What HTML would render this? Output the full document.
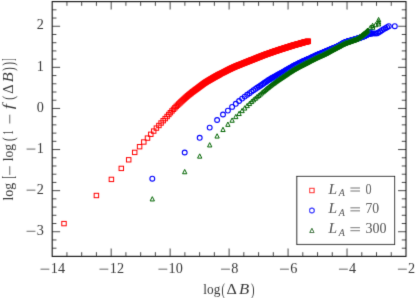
<!DOCTYPE html>
<html><head><meta charset="utf-8"><title>plot</title>
<style>
html,body{margin:0;padding:0;background:#fff;}
body{width:416px;height:298px;overflow:hidden;}
svg{display:block;}
text{font-family:"Liberation Serif",serif;fill:#383838;}
.i{font-style:italic;}
</style></head><body>
<svg width="416" height="298" viewBox="0 0 416 298">
<rect width="416" height="298" fill="#fff"/>
<defs>
<filter id="bl" x="-2%" y="-2%" width="104%" height="104%"><feConvolveMatrix order="3" kernelMatrix="0.0113 0.0838 0.0113 0.0838 0.6193 0.0838 0.0113 0.0838 0.0113" divisor="1" edgeMode="none" preserveAlpha="false"/></filter>
<marker id="ms" markerUnits="userSpaceOnUse" markerWidth="8" markerHeight="8" refX="4" refY="4" orient="0"><rect x="1.77" y="1.82" width="4.46" height="4.36" fill="none" stroke="#f00" stroke-width="1.0"/></marker>
<marker id="mc" markerUnits="userSpaceOnUse" markerWidth="8" markerHeight="8" refX="4" refY="4" orient="0"><circle cx="4" cy="4" r="2.42" fill="none" stroke="#00f" stroke-width="1.1"/></marker>
<marker id="mt" markerUnits="userSpaceOnUse" markerWidth="10" markerHeight="10" refX="5" refY="5" orient="0"><path d="M5 2.85 L7.15 7.15 L2.85 7.15 Z" fill="none" stroke="#006400" stroke-width="1.0" stroke-linejoin="miter"/></marker>
</defs>
<g filter="url(#bl)">

<polyline points="64.0,223.6 96.4,195.5 111.4,179.4 121.3,168.4 128.7,159.8 134.7,152.4 139.6,146.7 143.8,142.0 147.5,138.1 150.8,134.3 153.7,131.1 156.4,128.1 158.9,125.5 161.1,123.0 163.2,120.7 165.2,118.6 167.1,116.5 168.8,114.5 170.4,112.7 172.0,110.9 173.5,109.3 174.9,107.8 176.2,106.4 177.5,105.2 178.7,104.0 179.9,102.9 181.0,101.8 182.1,100.8 183.2,99.8 184.2,98.9 185.2,98.0 186.1,97.2 187.0,96.4 187.9,95.6 188.8,94.9 189.6,94.2 190.5,93.6 191.3,92.9 192.0,92.3 192.8,91.7 193.5,91.2 194.3,90.6 195.0,90.1 195.6,89.6 196.3,89.1 197.0,88.7 197.6,88.2 198.2,87.7 198.8,87.3 199.4,86.8 200.0,86.4 200.6,85.9 201.2,85.5 201.7,85.1 202.3,84.7 202.8,84.3 203.3,83.9 203.9,83.5 204.4,83.2 204.9,82.8 205.4,82.5 205.8,82.2 206.3,81.9 206.8,81.6 207.3,81.3 207.7,81.1 208.2,80.8 208.6,80.5 209.0,80.3 209.5,80.0 209.9,79.8 210.3,79.5 210.7,79.3 211.1,79.1 211.5,78.8 211.9,78.6 212.3,78.4 212.7,78.2 213.0,77.9 213.4,77.7 213.8,77.5 214.1,77.3 214.5,77.1 214.9,76.9 215.2,76.7 215.6,76.5 215.9,76.3 216.2,76.1 216.6,75.9 216.9,75.8 217.2,75.6 217.6,75.4 217.9,75.2 218.2,75.0 218.5,74.9 218.8,74.7 219.1,74.5 219.4,74.4 219.7,74.2 220.3,73.9 220.9,73.6 221.5,73.3 222.0,73.0 222.6,72.7 223.1,72.5 223.7,72.2 224.2,71.9 224.7,71.7 225.2,71.4 225.7,71.2 226.2,70.9 226.6,70.7 227.1,70.4 227.6,70.2 228.0,70.0 228.5,69.7 228.9,69.5 229.4,69.3 229.8,69.1 230.2,68.9 230.6,68.7 231.0,68.5 231.4,68.3 231.8,68.1 232.2,67.9 232.6,67.7 233.0,67.6 233.4,67.4 233.8,67.2 234.1,67.1 234.5,66.9 234.9,66.7 235.2,66.6 235.6,66.4 235.9,66.3 236.3,66.2 236.6,66.0 236.9,65.9 237.3,65.7 237.6,65.6 237.9,65.5 238.2,65.3 238.6,65.2 238.9,65.1 239.2,64.9 239.5,64.8 239.8,64.7 240.1,64.6 240.5,64.4 241.0,64.2 241.4,64.1 241.8,63.9 242.3,63.7 242.7,63.6 243.1,63.4 243.5,63.2 243.9,63.1 244.3,62.9 244.7,62.8 245.1,62.6 245.4,62.5 245.8,62.3 246.2,62.2 246.5,62.0 246.9,61.9 247.3,61.7 247.6,61.6 248.0,61.5 248.3,61.3 248.6,61.2 249.0,61.1 249.3,60.9 249.6,60.8 250.0,60.7 250.3,60.5 250.6,60.4 250.9,60.3 251.2,60.2 251.5,60.1 251.8,59.9 252.1,59.8 252.5,59.7 252.9,59.5 253.3,59.4 253.7,59.2 254.1,59.1 254.4,58.9 254.8,58.8 255.2,58.6 255.5,58.5 255.9,58.3 256.2,58.2 256.6,58.0 256.9,57.9 257.2,57.8 257.6,57.6 257.9,57.5 258.2,57.4 258.6,57.3 258.9,57.1 259.2,57.0 259.5,56.9 259.8,56.8 260.1,56.6 260.4,56.5 260.8,56.4 261.2,56.2 261.5,56.1 261.9,55.9 262.2,55.8 262.6,55.7 262.9,55.5 263.3,55.4 263.6,55.3 264.0,55.1 264.3,55.0 264.6,54.9 264.9,54.8 265.3,54.7 265.6,54.5 265.9,54.4 266.2,54.3 266.5,54.2 266.8,54.1 267.1,54.0 267.5,53.9 267.8,53.7 268.2,53.6 268.5,53.5 268.9,53.4 269.2,53.2 269.5,53.1 269.9,53.0 270.2,52.9 270.5,52.8 270.8,52.7 271.2,52.6 271.5,52.5 271.8,52.3 272.1,52.2 272.4,52.1 272.7,52.0 273.1,51.9 273.4,51.8 273.8,51.7 274.1,51.5 274.4,51.4 274.7,51.3 275.1,51.2 275.4,51.1 275.7,51.0 276.0,50.9 276.3,50.8 276.6,50.7 276.9,50.6 277.3,50.5 277.6,50.4 277.9,50.2 278.3,50.1 278.6,50.0 278.9,49.9 279.3,49.8 279.6,49.7 279.9,49.6 280.2,49.5 280.5,49.4 280.8,49.3 281.1,49.2 281.4,49.1 281.8,49.0 282.1,48.9 282.4,48.8 282.7,48.7 283.1,48.6 283.4,48.5 283.7,48.4 284.0,48.3 284.3,48.2 284.6,48.1 284.9,48.0 285.2,47.9 285.6,47.8 285.9,47.7 286.2,47.6 286.5,47.5 286.8,47.4 287.1,47.3 287.4,47.2 287.8,47.1 288.1,47.0 288.4,46.9 288.7,46.8 289.0,46.7 289.4,46.6 289.7,46.5 290.0,46.4 290.3,46.3 290.6,46.2 290.9,46.1 291.2,46.0 291.6,45.9 291.9,45.8 292.2,45.7 292.5,45.6 292.8,45.5 293.1,45.4 293.4,45.3 293.7,45.2 294.1,45.2 294.4,45.1 294.7,45.0 295.0,44.9 295.3,44.8 295.6,44.7 295.9,44.6 296.2,44.5 296.6,44.4 296.9,44.4 297.2,44.3 297.5,44.2 297.8,44.1 298.1,44.0 298.4,43.9 298.7,43.8 299.0,43.7 299.3,43.7 299.6,43.6 300.0,43.5 300.3,43.4 300.6,43.3 300.9,43.2 301.2,43.1 301.5,43.0 301.8,42.9 302.1,42.8 302.4,42.7 302.7,42.7 303.0,42.6 303.3,42.5 303.7,42.4 304.0,42.3 304.3,42.2 304.6,42.1 304.9,42.1 305.2,42.0 305.5,41.9 305.8,41.8 306.1,41.8 306.4,41.7 306.7,41.6 307.0,41.5 307.4,41.5 307.7,41.4 308.0,41.4 308.3,41.3" fill="none" stroke="none" marker-start="url(#ms)" marker-mid="url(#ms)" marker-end="url(#ms)"/>
<polyline points="152.3,178.7 184.7,152.5 199.7,137.8 209.7,127.6 217.1,120.0 223.0,114.5 227.9,110.6 232.1,106.9 235.8,103.8 239.1,101.0 242.1,98.6 244.7,96.6 247.2,94.8 249.5,93.2 251.6,91.6 253.5,90.2 255.4,88.9 257.1,87.8 258.8,86.7 260.3,85.7 261.8,84.7 263.2,83.7 264.5,82.8 265.8,81.9 267.0,81.1 268.2,80.3 269.3,79.6 270.4,79.0 271.5,78.3 272.5,77.7 273.5,77.2 274.4,76.6 275.4,76.1 276.3,75.7 277.1,75.2 278.0,74.8 278.8,74.3 279.6,73.9 280.4,73.5 281.1,73.0 281.9,72.6 282.6,72.2 283.3,71.9 284.0,71.5 284.6,71.1 285.3,70.7 285.9,70.3 286.6,70.0 287.2,69.6 287.8,69.3 288.4,68.9 288.9,68.6 289.5,68.3 290.1,67.9 290.6,67.6 291.1,67.4 291.7,67.1 292.2,66.8 292.7,66.5 293.2,66.3 293.7,66.0 294.2,65.7 294.6,65.5 295.1,65.3 295.6,65.0 296.0,64.8 296.5,64.6 296.9,64.4 297.3,64.1 297.8,63.9 298.2,63.7 298.6,63.5 299.0,63.3 299.4,63.1 299.8,62.9 300.2,62.7 300.6,62.6 301.0,62.4 301.4,62.2 301.7,62.0 302.1,61.9 302.5,61.7 302.8,61.5 303.2,61.3 303.5,61.2 303.9,61.0 304.2,60.9 304.6,60.7 304.9,60.6 305.2,60.4 305.6,60.3 305.9,60.1 306.2,60.0 306.5,59.8 306.8,59.7 307.1,59.6 307.5,59.4 307.8,59.3 308.1,59.1 308.7,58.9 309.2,58.6 309.8,58.4 310.4,58.1 310.9,57.8 311.4,57.6 312.0,57.3 312.5,57.1 313.0,56.8 313.5,56.6 314.0,56.4 314.5,56.1 315.0,55.9 315.4,55.7 315.9,55.5 316.4,55.3 316.8,55.1 317.2,54.9 317.7,54.7 318.1,54.5 318.5,54.4 318.9,54.2 319.4,54.0 319.8,53.9 320.2,53.7 320.6,53.6 320.9,53.4 321.3,53.3 321.7,53.1 322.1,53.0 322.5,52.8 322.8,52.7 323.2,52.5 323.5,52.4 323.9,52.2 324.2,52.1 324.6,52.0 324.9,51.8 325.3,51.7 325.6,51.5 325.9,51.4 326.2,51.3 326.6,51.1 326.9,51.0 327.2,50.8 327.5,50.7 327.8,50.6 328.1,50.4 328.4,50.3 328.9,50.1 329.3,49.9 329.7,49.7 330.2,49.5 330.6,49.4 331.0,49.2 331.4,49.0 331.8,48.8 332.2,48.7 332.6,48.5 333.0,48.4 333.4,48.2 333.8,48.1 334.1,47.9 334.5,47.8 334.9,47.7 335.2,47.5 335.6,47.4 335.9,47.2 336.3,47.1 336.6,46.9 337.0,46.8 337.3,46.6 337.6,46.5 338.0,46.3 338.3,46.2 338.6,46.0 338.9,45.8 339.2,45.7 339.5,45.5 339.8,45.3 340.1,45.1 340.4,44.9 340.8,44.7 341.2,44.4 341.6,44.2 342.0,43.9 342.4,43.7 342.8,43.5 343.1,43.3 343.5,43.1 343.8,42.9 344.2,42.7 344.5,42.6 344.9,42.4 345.2,42.3 345.6,42.1 345.9,42.0 346.2,41.9 346.6,41.8 346.9,41.7 347.2,41.6 347.5,41.5 347.8,41.4 348.1,41.3 348.4,41.2 348.7,41.1 349.1,41.0 349.5,40.9 349.9,40.8 350.2,40.7 350.6,40.6 350.9,40.5 351.3,40.4 351.6,40.3 352.0,40.2 352.3,40.1 352.6,40.0 352.9,39.9 353.3,39.8 353.6,39.7 353.9,39.6 354.2,39.6 354.5,39.5 354.8,39.4 355.1,39.3 355.5,39.2 355.8,39.1 356.2,39.0 356.5,38.9 356.9,38.8 357.2,38.7 357.5,38.5 357.9,38.4 358.2,38.3 358.5,38.2 358.8,38.1 359.2,38.0 359.5,37.9 359.8,37.8 360.1,37.7 360.4,37.6 360.7,37.4 361.1,37.3 361.4,37.2 361.7,37.1 362.1,36.9 362.4,36.8 362.7,36.7 363.1,36.6 363.4,36.5 363.7,36.3 364.0,36.2 364.3,36.1 364.7,35.9 365.0,35.8 365.3,35.6 365.6,35.4 365.9,35.3 366.3,35.1 366.6,34.9 366.9,34.7 367.3,34.5 367.6,34.3 367.9,34.2 368.2,34.0 368.5,33.9 368.8,33.8 369.1,33.7 369.4,33.6 369.8,33.5 370.1,33.4 370.4,33.4 370.7,33.4 371.1,33.4 371.4,33.4 371.7,33.4 373.4,33.4 375.1,33.4 376.8,33.4 378.5,32.5 380.2,31.4 382.0,30.2 383.7,29.1 385.4,28.2 387.1,27.2 388.8,26.2 394.8,26.2" fill="none" stroke="none" marker-start="url(#mc)" marker-mid="url(#mc)" marker-end="url(#mc)"/>
<polyline points="152.3,198.8 184.7,171.6 199.7,156.0 209.7,144.8 217.1,135.9 223.0,129.4 227.9,124.2 232.1,120.1 235.8,116.5 239.1,113.4 242.1,110.5 244.7,107.9 247.2,105.5 249.5,103.4 251.6,101.4 253.5,99.7 255.4,98.1 257.1,96.6 258.8,95.3 260.3,94.0 261.8,92.7 263.2,91.5 264.5,90.4 265.8,89.3 267.0,88.2 268.2,87.3 269.3,86.3 270.4,85.5 271.5,84.7 272.5,83.9 273.5,83.2 274.4,82.5 275.4,81.8 276.3,81.1 277.1,80.5 278.0,79.9 278.8,79.4 279.6,78.8 280.4,78.3 281.1,77.8 281.9,77.3 282.6,76.8 283.3,76.3 284.0,75.9 284.6,75.4 285.3,75.0 285.9,74.5 286.6,74.1 287.2,73.7 287.8,73.2 288.4,72.8 288.9,72.4 289.5,72.1 290.1,71.7 290.6,71.3 291.1,71.0 291.7,70.7 292.2,70.4 292.7,70.0 293.2,69.7 293.7,69.4 294.2,69.1 294.6,68.9 295.1,68.6 295.6,68.3 296.0,68.1 296.5,67.8 296.9,67.6 297.3,67.3 297.8,67.1 298.2,66.9 298.6,66.6 299.0,66.4 299.4,66.2 299.8,66.0 300.2,65.8 300.6,65.6 301.0,65.4 301.4,65.2 301.7,65.0 302.1,64.8 302.5,64.6 302.8,64.5 303.2,64.3 303.5,64.1 303.9,63.9 304.2,63.7 304.6,63.6 304.9,63.4 305.2,63.2 305.6,63.0 305.9,62.9 306.2,62.7 306.5,62.6 306.8,62.4 307.1,62.2 307.5,62.1 307.8,61.9 308.1,61.8 308.7,61.5 309.2,61.2 309.8,60.9 310.4,60.6 310.9,60.3 311.4,60.1 312.0,59.8 312.5,59.5 313.0,59.3 313.5,59.0 314.0,58.8 314.5,58.5 315.0,58.3 315.4,58.0 315.9,57.8 316.4,57.6 316.8,57.4 317.2,57.2 317.7,57.0 318.1,56.8 318.5,56.6 318.9,56.4 319.4,56.2 319.8,56.0 320.2,55.8 320.6,55.7 320.9,55.5 321.3,55.3 321.7,55.2 322.1,55.0 322.5,54.8 322.8,54.6 323.2,54.5 323.5,54.3 323.9,54.1 324.2,54.0 324.6,53.8 324.9,53.6 325.3,53.5 325.6,53.3 325.9,53.1 326.2,53.0 326.6,52.8 326.9,52.6 327.2,52.5 327.5,52.3 327.8,52.1 328.1,52.0 328.4,51.8 328.9,51.5 329.3,51.3 329.7,51.1 330.2,50.8 330.6,50.6 331.0,50.4 331.4,50.2 331.8,49.9 332.2,49.7 332.6,49.5 333.0,49.3 333.4,49.1 333.8,48.9 334.1,48.7 334.5,48.5 334.9,48.3 335.2,48.1 335.6,47.9 335.9,47.7 336.3,47.5 336.6,47.4 337.0,47.2 337.3,47.0 337.6,46.8 338.0,46.7 338.3,46.5 338.6,46.3 338.9,46.2 339.2,46.0 339.5,45.8 339.8,45.7 340.1,45.5 340.4,45.3 340.8,45.1 341.2,44.9 341.6,44.7 342.0,44.5 342.4,44.3 342.8,44.1 343.1,44.0 343.5,43.8 343.8,43.6 344.2,43.5 344.5,43.3 344.9,43.2 345.2,43.0 345.6,42.9 345.9,42.8 346.2,42.6 346.6,42.5 346.9,42.4 347.2,42.3 347.5,42.2 347.8,42.1 348.1,42.0 348.4,41.9 348.7,41.7 349.1,41.6 349.5,41.5 349.9,41.4 350.2,41.2 350.6,41.1 350.9,41.0 351.3,40.8 351.6,40.7 352.0,40.6 352.3,40.5 352.6,40.4 352.9,40.3 353.3,40.1 353.6,40.0 353.9,39.9 354.2,39.8 354.5,39.7 354.8,39.6 355.1,39.5 355.5,39.4 355.8,39.2 356.2,39.1 356.5,38.9 356.9,38.7 357.2,38.6 357.5,38.4 357.9,38.2 358.2,38.0 358.5,37.8 358.8,37.6 359.2,37.4 359.5,37.2 359.8,37.0 360.1,36.8 360.4,36.6 360.7,36.4 361.1,36.1 361.4,35.8 361.7,35.6 362.1,35.3 362.4,35.0 362.7,34.8 363.1,34.5 363.4,34.2 363.7,34.0 364.0,33.7 364.3,33.5 364.7,33.2 365.0,33.0 365.3,32.7 365.6,32.4 365.9,32.1 366.3,31.8 366.6,31.5 366.9,31.1 367.3,30.8 367.6,30.5 367.9,30.3 370.4,27.4 372.6,25.4 372.8,27.2 375.6,24.6 378.6,23.8 378.6,21.8 378.6,19.6" fill="none" stroke="none" marker-start="url(#mt)" marker-mid="url(#mt)" marker-end="url(#mt)"/>
<rect x="52.2" y="1.6" width="353.8" height="254.8" fill="none" stroke="#1c1c1c" stroke-width="1.15"/>
<path d="M66.94 256.40v-4.2M66.94 1.60v4.2M81.68 256.40v-4.2M81.68 1.60v4.2M96.43 256.40v-4.2M96.43 1.60v4.2M111.17 256.40v-7.9M111.17 1.60v7.9M125.91 256.40v-4.2M125.91 1.60v4.2M140.65 256.40v-4.2M140.65 1.60v4.2M155.39 256.40v-4.2M155.39 1.60v4.2M170.13 256.40v-7.9M170.13 1.60v7.9M184.88 256.40v-4.2M184.88 1.60v4.2M199.62 256.40v-4.2M199.62 1.60v4.2M214.36 256.40v-4.2M214.36 1.60v4.2M229.10 256.40v-7.9M229.10 1.60v7.9M243.84 256.40v-4.2M243.84 1.60v4.2M258.58 256.40v-4.2M258.58 1.60v4.2M273.32 256.40v-4.2M273.32 1.60v4.2M288.07 256.40v-7.9M288.07 1.60v7.9M302.81 256.40v-4.2M302.81 1.60v4.2M317.55 256.40v-4.2M317.55 1.60v4.2M332.29 256.40v-4.2M332.29 1.60v4.2M347.03 256.40v-7.9M347.03 1.60v7.9M361.77 256.40v-4.2M361.77 1.60v4.2M376.52 256.40v-4.2M376.52 1.60v4.2M391.26 256.40v-4.2M391.26 1.60v4.2M52.20 248.18h4.2M406.00 248.18h-4.2M52.20 239.96h4.2M406.00 239.96h-4.2M52.20 231.74h7.9M406.00 231.74h-7.9M52.20 223.52h4.2M406.00 223.52h-4.2M52.20 215.30h4.2M406.00 215.30h-4.2M52.20 207.08h4.2M406.00 207.08h-4.2M52.20 198.86h4.2M406.00 198.86h-4.2M52.20 190.65h7.9M406.00 190.65h-7.9M52.20 182.43h4.2M406.00 182.43h-4.2M52.20 174.21h4.2M406.00 174.21h-4.2M52.20 165.99h4.2M406.00 165.99h-4.2M52.20 157.77h4.2M406.00 157.77h-4.2M52.20 149.55h7.9M406.00 149.55h-7.9M52.20 141.33h4.2M406.00 141.33h-4.2M52.20 133.11h4.2M406.00 133.11h-4.2M52.20 124.89h4.2M406.00 124.89h-4.2M52.20 116.67h4.2M406.00 116.67h-4.2M52.20 108.45h7.9M406.00 108.45h-7.9M52.20 100.23h4.2M406.00 100.23h-4.2M52.20 92.01h4.2M406.00 92.01h-4.2M52.20 83.79h4.2M406.00 83.79h-4.2M52.20 75.57h4.2M406.00 75.57h-4.2M52.20 67.35h7.9M406.00 67.35h-7.9M52.20 59.14h4.2M406.00 59.14h-4.2M52.20 50.92h4.2M406.00 50.92h-4.2M52.20 42.70h4.2M406.00 42.70h-4.2M52.20 34.48h4.2M406.00 34.48h-4.2M52.20 26.26h7.9M406.00 26.26h-7.9M52.20 18.04h4.2M406.00 18.04h-4.2M52.20 9.82h4.2M406.00 9.82h-4.2" fill="none" stroke="#1c1c1c" stroke-width="0.8"/>
<path d="M40.51 269.18H49.37" stroke="#383838" stroke-width="0.75" fill="none"/><text transform="translate(50.66 272.80) scale(1.030 1.000)" font-size="13.8">1</text><text transform="translate(57.91 272.80) scale(1.030 1.000)" font-size="13.8">4</text>
<path d="M99.48 269.18H108.34" stroke="#383838" stroke-width="0.75" fill="none"/><text transform="translate(109.63 272.80) scale(1.030 1.000)" font-size="13.8">1</text><text transform="translate(116.88 272.80) scale(1.030 1.000)" font-size="13.8">2</text>
<path d="M158.45 269.18H167.31" stroke="#383838" stroke-width="0.75" fill="none"/><text transform="translate(168.60 272.80) scale(1.030 1.000)" font-size="13.8">1</text><text transform="translate(175.85 272.80) scale(1.030 1.000)" font-size="13.8">0</text>
<path d="M221.04 269.18H229.90" stroke="#383838" stroke-width="0.75" fill="none"/><text transform="translate(231.19 272.80) scale(1.030 1.000)" font-size="13.8">8</text>
<path d="M280.00 269.18H288.86" stroke="#383838" stroke-width="0.75" fill="none"/><text transform="translate(290.15 272.80) scale(1.030 1.000)" font-size="13.8">6</text>
<path d="M338.97 269.18H347.83" stroke="#383838" stroke-width="0.75" fill="none"/><text transform="translate(349.12 272.80) scale(1.030 1.000)" font-size="13.8">4</text>
<path d="M397.94 269.18H406.80" stroke="#383838" stroke-width="0.75" fill="none"/><text transform="translate(408.09 272.80) scale(1.030 1.000)" font-size="13.8">2</text>
<path d="M26.57 231.27H35.43" stroke="#383838" stroke-width="0.75" fill="none"/><text transform="translate(36.72 234.89) scale(1.030 1.000)" font-size="13.8">3</text>
<path d="M26.57 190.17H35.43" stroke="#383838" stroke-width="0.75" fill="none"/><text transform="translate(36.72 193.80) scale(1.030 1.000)" font-size="13.8">2</text>
<path d="M26.57 149.07H35.43" stroke="#383838" stroke-width="0.75" fill="none"/><text transform="translate(36.72 152.70) scale(1.030 1.000)" font-size="13.8">1</text>
<text transform="translate(36.72 111.60) scale(1.030 1.000)" font-size="13.8">0</text>
<text transform="translate(36.72 70.50) scale(1.030 1.000)" font-size="13.8">1</text>
<text transform="translate(36.72 29.41) scale(1.030 1.000)" font-size="13.8">2</text>
<text transform="translate(203.30 293.70) scale(0.905 1.000)" font-size="14.7">log</text>
<text transform="translate(221.60 294.60) scale(0.601 1.000)" font-size="17">(</text>
<text transform="translate(226.50 293.70) scale(1.086 1.000)" font-size="14.9">Δ</text>
<text transform="translate(239.10 293.70) scale(1.120 1.000)" font-size="14.9" class="i">B</text>
<text transform="translate(251.00 294.60) scale(0.618 1.000)" font-size="17">)</text>
<g transform="translate(13.4 200.7) rotate(-90)">
<text transform="translate(0.10 0.00) scale(0.942 1.000)" font-size="14.7">log</text>
<text transform="translate(22.10 0.90) scale(0.442 1.000)" font-size="17">[</text>
<path d="M25.80 -3.62H34.50" stroke="#383838" stroke-width="0.75" fill="none"/>
<text transform="translate(39.40 0.00) scale(0.932 1.000)" font-size="14.7">log</text>
<text transform="translate(59.80 0.90) scale(0.636 1.000)" font-size="17">(</text>
<text transform="translate(66.20 0.00) scale(0.594 1.000)" font-size="13.8">1</text>
<path d="M77.20 -3.62H86.00" stroke="#383838" stroke-width="0.75" fill="none"/>
<text transform="translate(91.50 0.00) scale(1.226 1.000)" font-size="14.9" class="i">f</text>
<text transform="translate(100.90 0.90) scale(0.671 1.000)" font-size="17">(</text>
<text transform="translate(107.00 0.00) scale(0.981 1.000)" font-size="14.9">Δ</text>
<text transform="translate(118.50 0.00) scale(1.087 1.000)" font-size="14.9" class="i">B</text>
<text transform="translate(129.90 0.90) scale(0.618 1.000)" font-size="17">)</text>
<text transform="translate(135.30 0.90) scale(0.618 1.000)" font-size="17">)</text>
<text transform="translate(140.00 0.90) scale(0.424 1.000)" font-size="17">]</text>
</g>
<rect x="296.8" y="176.4" width="97.8" height="68.0" fill="#fff" stroke="#1c1c1c" stroke-width="1"/>
<polyline points="311.9,190.5" fill="none" stroke="none" marker-start="url(#ms)" marker-mid="url(#ms)" marker-end="url(#ms)"/>
<text transform="translate(328.59 193.60) scale(1.040 1.000)" font-size="14.9" class="i">L</text>
<text transform="translate(338.85 195.80) scale(0.962 1.000)" font-size="10.4" class="i">A</text>
<path d="M350.40 188.00H360.00" stroke="#383838" stroke-width="0.72" fill="none"/>
<path d="M350.40 191.00H360.00" stroke="#383838" stroke-width="0.72" fill="none"/>
<text transform="translate(365.40 193.60) scale(0.884 1.000)" font-size="13.8">0</text>
<polyline points="311.9,210.5" fill="none" stroke="none" marker-start="url(#mc)" marker-mid="url(#mc)" marker-end="url(#mc)"/>
<text transform="translate(328.59 213.45) scale(1.040 1.000)" font-size="14.9" class="i">L</text>
<text transform="translate(338.85 215.65) scale(0.962 1.000)" font-size="10.4" class="i">A</text>
<path d="M350.40 207.85H360.00" stroke="#383838" stroke-width="0.72" fill="none"/>
<path d="M350.40 210.85H360.00" stroke="#383838" stroke-width="0.72" fill="none"/>
<text transform="translate(365.40 213.45) scale(0.993 1.000)" font-size="13.8">70</text>
<polyline points="311.9,230.4" fill="none" stroke="none" marker-start="url(#mt)" marker-mid="url(#mt)" marker-end="url(#mt)"/>
<text transform="translate(328.59 233.30) scale(1.040 1.000)" font-size="14.9" class="i">L</text>
<text transform="translate(338.85 235.50) scale(0.962 1.000)" font-size="10.4" class="i">A</text>
<path d="M350.40 227.70H360.00" stroke="#383838" stroke-width="0.72" fill="none"/>
<path d="M350.40 230.70H360.00" stroke="#383838" stroke-width="0.72" fill="none"/>
<text transform="translate(365.40 233.30) scale(1.019 1.000)" font-size="13.8">300</text>
</g></svg></body></html>
